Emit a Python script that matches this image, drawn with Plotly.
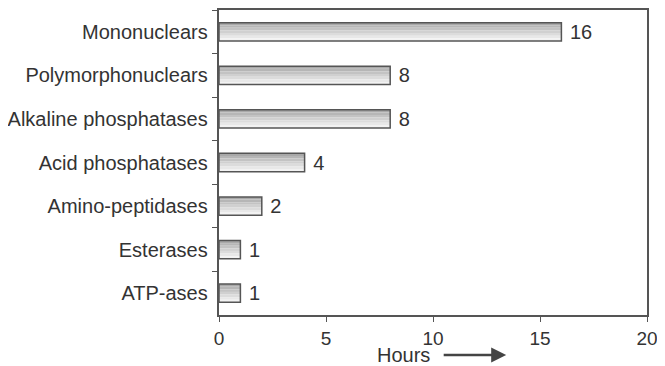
import plotly.graph_objects as go

# data
categories = ["Mononuclears", "Polymorphonuclears", "Alkaline phosphatases",
              "Acid phosphatases", "Amino-peptidases", "Esterases", "ATP-ases"]
hours = [16, 8, 8, 4, 2, 1, 1]
x_ticks = [0, 5, 10, 15, 20]

fig = go.Figure()

# gradient bars built from thin bands (dark top -> light bottom)
band_colors = ["#a9a9a9", "#b6b6b6", "#c3c3c3", "#d0d0d0", "#dcdcdc", "#e8e8e8", "#f2f2f2"]
bar_w = 0.42
band_w = bar_w / len(band_colors)
for i, c in enumerate(band_colors):
    fig.add_trace(go.Bar(
        y=categories, x=hours, orientation="h",
        width=band_w, offset=-bar_w / 2 + i * band_w,
        marker=dict(color=c, line=dict(width=0)),
        showlegend=False, hoverinfo="skip"))

# outline + value labels
fig.add_trace(go.Bar(
    y=categories, x=hours, orientation="h",
    width=bar_w, offset=-bar_w / 2,
    marker=dict(color="rgba(0,0,0,0)", line=dict(color="#555555", width=1.5)),
    text=[" " + str(v) for v in hours], textposition="outside",
    constraintext="none",
    textfont=dict(size=20, color="#333333"), cliponaxis=False,
    showlegend=False))

# page body has an 8px margin, so the figure is smaller than the window
fig.update_layout(
    width=657, height=358,
    margin=dict(l=211, r=18, t=2, b=51, autoexpand=False),
    barmode="overlay",
    plot_bgcolor="white", paper_bgcolor="white",
    font=dict(family="Liberation Sans, Arial, sans-serif", size=20, color="#333333"),
    xaxis=dict(range=[0, 20], tickvals=x_ticks, showgrid=False, zeroline=False,
               showline=True, linecolor="#555555", linewidth=1.5, mirror=True,
               ticks="outside", ticklen=5, tickcolor="#555555", automargin=False,
               ticklabeloverflow="allow", tickfont=dict(size=19)),
    yaxis=dict(autorange="reversed", showgrid=False, zeroline=False,
               showline=True, linecolor="#555555", linewidth=1.5, mirror=True,
               ticks="outside", ticklen=5, tickcolor="#555555", tickson="boundaries",
               automargin=False, tickfont=dict(size=20), ticksuffix=" "),
)

fig.add_annotation(x=0.432, y=-0.131, xref="paper", yref="paper", text="Hours",
                   yanchor="middle", showarrow=False, font=dict(size=20, color="#333333"))
fig.add_annotation(x=0.671, y=-0.131, xref="paper", yref="paper", text="",
                   showarrow=True, arrowhead=2, arrowsize=1.2, arrowwidth=2.5,
                   arrowcolor="#444444", ax=-64, ay=0)

fig.write_html("out.html")
